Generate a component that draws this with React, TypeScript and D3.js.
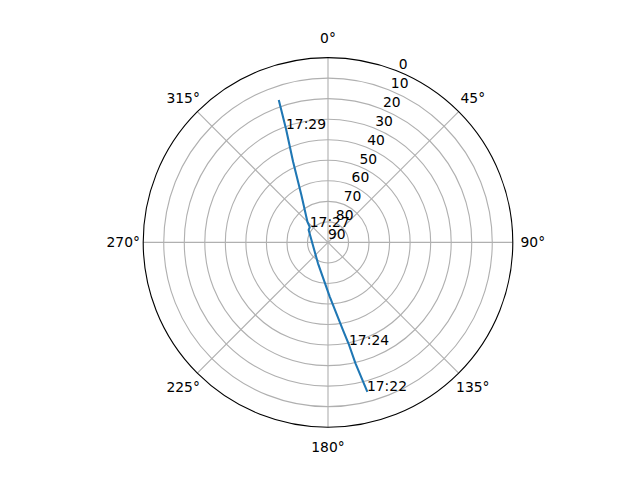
import React from "react";
import * as d3 from "d3";

// satellite track: azimuth (deg, clockwise from north) and elevation (deg)
const azimuths = [165.3, 167.2, 168.4, 170.3, 178.2, 205.6, 302.7, 310.1, 315.1, 330.7, 336.6, 339.7, 340.9];
const elevations = [15.2, 29.6, 39.0, 46.7, 63.6, 78.7, 78.8, 78.4, 75.8, 63.5, 47.2, 31.1, 17.1];
const timeLabels = ["17:22", "", "17:24", "", "", "", "", "17:27", "", "", "", "17:29", ""];

const thetaTicks = [0, 45, 90, 135, 180, 225, 270, 315];
const radialTicks = [0, 10, 20, 30, 40, 50, 60, 70, 80, 90];

const W = 640;
const H = 480;
const CX = 328;
const CY = 242.4;
const R = 184.8;
const FONT = "'DejaVu Sans', sans-serif";
const FS = 13.89;

export default function App() {
  const r = d3.scaleLinear().domain([90, 0]).range([0, R]);
  const rad = (deg: number) => (deg * Math.PI) / 180;
  const px = (az: number, el: number) => CX + r(el) * Math.sin(rad(az));
  const py = (az: number, el: number) => CY - r(el) * Math.cos(rad(az));

  const pts: [number, number][] = azimuths.map((a, i) => [px(a, elevations[i]), py(a, elevations[i])]);
  const line = d3.line<[number, number]>().curve(d3.curveLinear)(pts) || "";

  const rLabelAngle = 22.5;

  return (
    <svg
      width={W}
      height={H}
      viewBox={`0 0 ${W} ${H}`}
      style={{ position: "absolute", left: 0, top: 0, background: "#fff" }}
      fontFamily={FONT}
      fontSize={FS}
    >
      <rect x={0} y={0} width={W} height={H} fill="#fff" />
      {/* ring grid */}
      {radialTicks
        .filter((t) => t !== 90 && t !== 0)
        .map((t) => (
          <circle key={`ring${t}`} cx={CX} cy={CY} r={r(t)} fill="none" stroke="#b0b0b0" strokeWidth={1.11} />
        ))}
      {/* spokes */}
      {thetaTicks.map((t) => (
        <line
          key={`spoke${t}`}
          x1={CX}
          y1={CY}
          x2={CX + R * Math.sin(rad(t))}
          y2={CY - R * Math.cos(rad(t))}
          stroke="#b0b0b0"
          strokeWidth={1.11}
        />
      ))}
      {/* outer spine */}
      <circle cx={CX} cy={CY} r={R} fill="none" stroke="#000" strokeWidth={1.11} />
      {/* theta labels */}
      {thetaTicks.map((t) => (
        <text
          key={`tl${t}`}
          x={CX + (R + 20) * Math.sin(rad(t))}
          y={CY - (R + 20) * Math.cos(rad(t))}
          textAnchor="middle"
          dy="0.36em"
          fill="#000"
        >
          {`${t}°`}
        </text>
      ))}
      {/* radial labels */}
      {radialTicks.map((t) => (
        <text
          key={`rl${t}`}
          x={CX + r(t) * Math.sin(rad(rLabelAngle))}
          y={CY - r(t) * Math.cos(rad(rLabelAngle)) - 3}
          textAnchor="start"
          fill="#000"
        >
          {`${t}`}
        </text>
      ))}
      {/* track */}
      <path d={line} fill="none" stroke="#1f77b4" strokeWidth={2.08} strokeLinejoin="round" strokeLinecap="square" />
      {/* time labels */}
      {timeLabels.map((lab, i) =>
        lab ? (
          <text key={`time${i}`} x={pts[i][0]} y={pts[i][1]} textAnchor="start" fill="#000">
            {lab}
          </text>
        ) : null
      )}
    </svg>
  );
}
